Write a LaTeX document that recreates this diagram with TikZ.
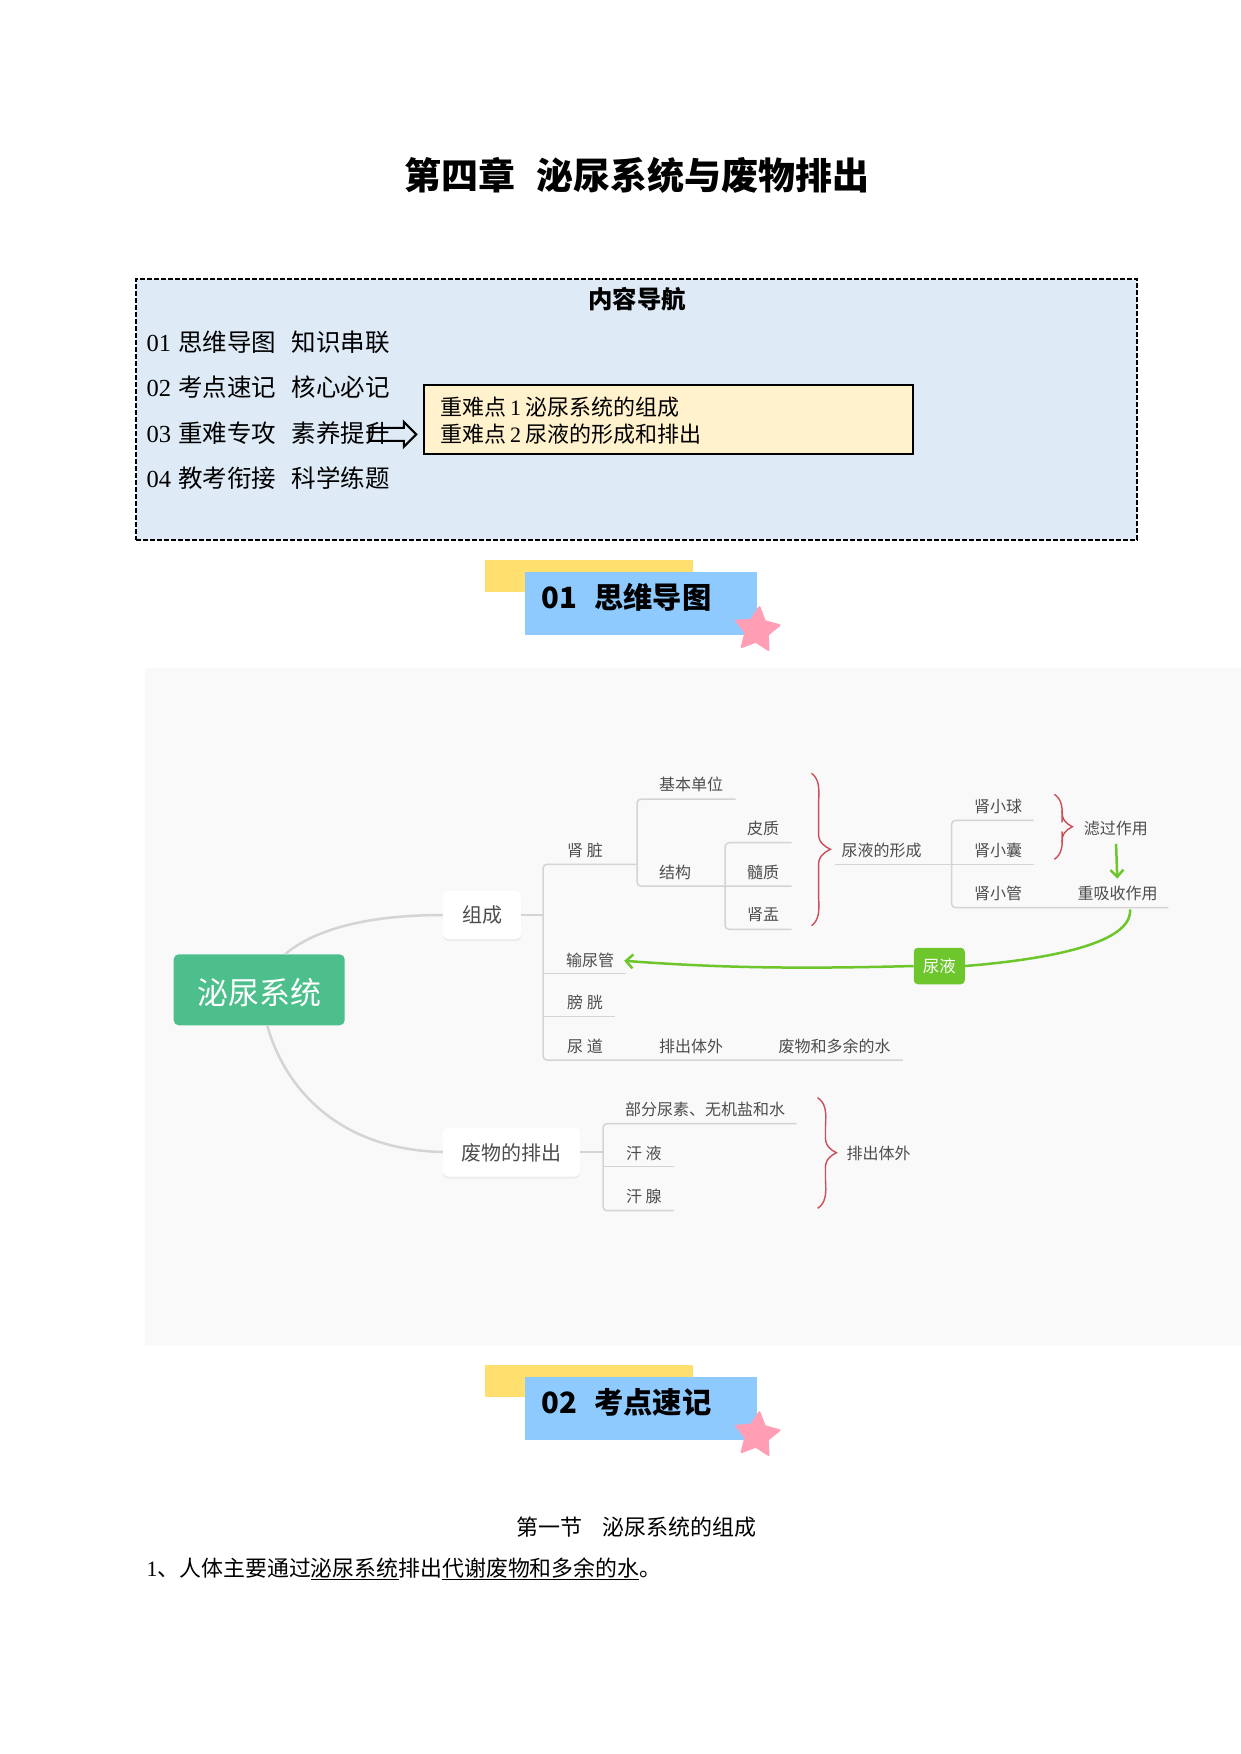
\documentclass[tikz,border=0pt]{standalone}
\usepackage{fontspec}
\setmainfont{Noto Sans CJK SC}
\newfontfamily\latin{Liberation Serif}
\usetikzlibrary{shapes.geometric,shapes.arrows,arrows.meta,shadows}
\definecolor{navblue}{HTML}{DEEAF6}
\definecolor{navyellow}{HTML}{FFF2CC}
\definecolor{banyellow}{HTML}{FFE06E}
\definecolor{banblue}{HTML}{8FCAFF}
\definecolor{starpink}{HTML}{FF9EB5}
\definecolor{mmbg}{HTML}{F9F9F9}
\definecolor{mmtext}{HTML}{4D4D4D}
\definecolor{mmline}{HTML}{D4D4D4}
\definecolor{rootgreen}{HTML}{4DBF8C}
\definecolor{limeg}{HTML}{6CC62C}
\definecolor{bracered}{HTML}{C9505A}
\newcommand{\fs}[1]{\fontsize{#1}{#1}\selectfont}
\newcommand{\redbrace}[6]{% x0 xm xtip ytop ytip ybot
  \draw[bracestyle] (#1,#4) .. controls (#2,#4+5) and (#2+1,#4+14) .. (#2,#4+28)
   -- (#2,#5-18) .. controls (#2-1,#5-7) and (#3-6,#5-3) .. (#3,#5)
   .. controls (#3-6,#5+3) and (#2-1,#5+7) .. (#2,#5+18)
   -- (#2,#6-28) .. controls (#2+1,#6-14) and (#2,#6-5) .. (#1,#6);}
\tikzset{
  nav/.style={inner sep=0,anchor=west,font=\fs{24.5}},
  bantext/.style={inner sep=0,anchor=west,font=\fs{29.3}\bfseries},
  lab/.style={inner sep=0,text=mmtext,font=\fs{16}},
  tree/.style={draw=mmline,line width=1.5pt,rounded corners=4pt},
  thick link/.style={draw=mmline,line width=2.5pt},
  bracestyle/.style={draw=bracered,line width=1.4pt},
  limeline/.style={draw=limeg,line width=2.5pt},
  whitenode/.style={fill=white,rounded corners=5pt,text=mmtext,inner sep=0,
     drop shadow={opacity=.10,shadow xshift=0pt,shadow yshift=-2pt}},
  starshape/.style={star,star points=5,star point ratio=1.95,fill=starpink,draw=starpink,
     line join=round,line width=2pt,inner sep=0,minimum size=46pt,rotate=-6}
}
\begin{document}
\begin{tikzpicture}[x=1pt,y=-1pt]
\useasboundingbox (0,0) rectangle (1241,1754);
\fill[white] (0,0) rectangle (1241,1754);
% title
\node[inner sep=0,font=\fs{37}\bfseries] (title) at (637,175) {第四章\hspace{22pt}泌尿系统与废物排出};
% navigation
\node[draw=black,dash pattern=on 5pt off 2pt,line width=2pt,fill=navblue,minimum width=1001pt,minimum height=261pt,inner sep=0] (navbox) at (636.5,409.5) {};
\node[inner sep=0,font=\fs{24.4}\bfseries] (navtitle) at (637,299.5) {内容导航};
\node[nav] (n1) at (146.5,342) {{\latin 01}\hspace{7pt}思维导图\hspace{15.5pt}知识串联};
\node[nav] (n2) at (146.5,387) {{\latin 02}\hspace{7pt}考点速记\hspace{15.5pt}核心必记};
\node[nav] (n3) at (146.5,433) {{\latin 03}\hspace{7pt}重难专攻\hspace{15.5pt}素养提升};
\node[nav] (n4) at (146.5,478.5) {{\latin 04}\hspace{7pt}教考衔接\hspace{15.5pt}科学练题};
\node[draw=black,fill=navyellow,line width=1.5pt,minimum width=489pt,minimum height=69pt,inner sep=0] (keybox) at (668.3,419.7) {};
\node[inner sep=0,anchor=west,font=\fs{22}] (k1) at (440,407.5) {重难点\hspace{4pt}{\latin 1}\hspace{4pt}泌尿系统的组成};
\node[inner sep=0,anchor=west,font=\fs{22}] (k2) at (440,434.4) {重难点\hspace{4pt}{\latin 2}\hspace{4pt}尿液的形成和排出};
\node[single arrow,draw=black,line width=2pt,inner xsep=0pt,inner ysep=5.5pt,minimum height=47pt,minimum width=25pt,single arrow head extend=6pt,single arrow head indent=0pt] (blockarrow) at (389.5,434.4) {};
% banner 1
\node[fill=banyellow,minimum width=208pt,minimum height=32pt,inner sep=0] (by1) at (589,575.5) {};
\node[fill=banblue,minimum width=232pt,minimum height=63pt,inner sep=0] (bb1) at (640.5,603.5) {};
\node[bantext] (bt1) at (541.5,597.5) {01\hspace{17pt}思维导图};
\node[starshape] (star1) at (757,630) {};
% mind map background
\fill[mmbg] (145,668) rectangle (1241,1346);
% banner 2
\node[fill=banyellow,minimum width=208pt,minimum height=32pt,inner sep=0] (by2) at (589,1380.5) {};
\node[fill=banblue,minimum width=232pt,minimum height=63pt,inner sep=0] (bb2) at (640.5,1408.5) {};
\node[bantext] (bt2) at (541.5,1402.5) {02\hspace{17pt}考点速记};
\node[starshape] (star2) at (757,1435) {};
% section text
\node[inner sep=0,font=\fs{22}] (sec) at (636.5,1526.7) {第一节\hspace{20pt}泌尿系统的组成};
\node[inner sep=0,anchor=west,font=\fs{21.9}] (para) at (146.5,1569) {{\latin 1}、人体主要通过\underline{泌尿系统}排出\underline{代谢废物和多余的水}。};
% mind map nodes
\node[fill=rootgreen,rounded corners=5pt,minimum width=171pt,minimum height=71pt,inner sep=0] (root) at (259.2,989.8) {};
\node[inner sep=0,text=white,font=\fs{31}] (rootlabel) at (259.2,993) {泌尿系统};
\node[whitenode,font=\fs{20},minimum width=78pt,minimum height=48pt] (zucheng) at (482,915) {组成};
\node[whitenode,minimum width=137pt,minimum height=49pt] (feiwu) at (511.5,1152) {};
\node[inner sep=0,text=mmtext,font=\fs{20}] (feiwulabel) at (511.5,1153) {废物的排出};
\node[lab] (shenzang) at (585,850.7) {肾 脏};
\node[lab] (jiben) at (691,784.3) {基本单位};
\node[lab] (jiegou) at (675,872.7) {结构};
\node[lab] (pizhi) at (763,828.7) {皮质};
\node[lab] (suizhi) at (763,872.7) {髓质};
\node[lab] (shenyu) at (763,915) {肾盂};
\node[lab] (xingcheng) at (881.5,850) {尿液的形成};
\node[lab] (xq) at (998,806) {肾小球};
\node[lab] (xn) at (998,850.7) {肾小囊};
\node[lab] (xg) at (998,893.3) {肾小管};
\node[lab] (lvguo) at (1115.8,828.3) {滤过作用};
\node[lab] (chongxi) at (1117.5,893.3) {重吸收作用};
\node[lab] (shuniao) at (590,960) {输尿管};
\node[lab] (pangguang) at (585,1002.3) {膀 胱};
\node[lab] (niaodao) at (585,1046.7) {尿 道};
\node[lab] (paichu) at (691,1046.7) {排出体外};
\node[lab] (duoyu) at (834.6,1046.7) {废物和多余的水};
\node[lab] (bufen) at (705,1109.3) {部分尿素、无机盐和水};
\node[lab] (hanye) at (643.8,1153.3) {汗 液};
\node[lab] (hanxian) at (643.8,1196.7) {汗 腺};
\node[lab] (paichu2) at (878.5,1153.3) {排出体外};
\node[fill=limeg,rounded corners=4pt,text=white,font=\fs{16.5},minimum width=51pt,minimum height=36.5pt,inner sep=0] (niaoye) at (939.3,966) {尿液};
% tree coordinates
\coordinate (sA) at (543,915);
\coordinate (aT) at (543,864.3); \coordinate (aTe) at (637,864.3);
\coordinate (aB) at (543,1060); \coordinate (aBe) at (902.8,1060);
\coordinate (a2) at (543,973.3); \coordinate (a2e) at (626,973.3);
\coordinate (a3) at (543,1016.7); \coordinate (a3e) at (615,1016.7);
\coordinate (bT) at (637,799); \coordinate (bTe) at (735.7,799);
\coordinate (bB) at (637,886); \coordinate (bBe) at (791.7,886);
\coordinate (cT) at (725,842.7); \coordinate (cTe) at (791.7,842.7);
\coordinate (cM) at (725,886);
\coordinate (cB) at (725,929.3); \coordinate (cBe) at (791.7,929.3);
\coordinate (dS) at (834.6,864.3); \coordinate (dM) at (951.6,864.3); \coordinate (dMe) at (1033.7,864.3);
\coordinate (dT) at (951.6,820.3); \coordinate (dTe) at (1033.7,820.3);
\coordinate (dB) at (951.6,907.7); \coordinate (dBe) at (1168.4,907.7);
\coordinate (sE) at (603,1152);
\coordinate (eT) at (603,1123.7); \coordinate (eTe) at (796.6,1123.7);
\coordinate (eM) at (603,1166.7); \coordinate (eMe) at (674,1166.7);
\coordinate (eB) at (603,1210.7); \coordinate (eBe) at (674,1210.7);
% tree lines
\draw[thick link] (zucheng.east) -- (sA);
\draw[tree] (aTe) -- (aT) -- (aB) -- (aBe);
\draw[tree,rounded corners=0pt] (a2) -- (a2e);
\draw[tree,rounded corners=0pt] (a3) -- (a3e);
\draw[tree] (bTe) -- (bT) -- (bB) -- (bBe);
\draw[tree] (cTe) -- (cT) -- (cB) -- (cBe);
\draw[tree,rounded corners=0pt] (dS) -- (dMe);
\draw[tree] (dTe) -- (dT) -- (dB) -- (dBe);
\draw[thick link] (feiwu.east) -- (sE);
\draw[tree] (eTe) -- (eT) -- (eB) -- (eBe);
\draw[tree,rounded corners=0pt] (eM) -- (eMe);
% root curves
\draw[thick link] ([xshift=26pt]root.north) .. controls (320,925) and (380,915) .. (zucheng.west);
\draw[thick link] ([xshift=8pt]root.south) .. controls (287,1095) and (345,1150) .. (feiwu.west);
% braces
\redbrace{811.5}{818.6}{830.4}{773.3}{849.3}{925.7}
\redbrace{1054.3}{1062}{1072.4}{794.3}{826.7}{859.3}
\redbrace{817.6}{825.5}{836.4}{1097.7}{1152.7}{1208.3}
% green connectors
\draw[limeline,-{Straight Barb[length=7pt,width=13pt]},shorten <=8pt,shorten >=7pt] (lvguo.south) -- (chongxi.north);
\coordinate (gStart) at (1130,909.3);
\draw[limeline] (gStart) .. controls (1133,945) and (1040,960) .. (niaoye.east);
\draw[limeline,-{Straight Barb[length=7pt,width=14pt]},shorten >=10pt] (niaoye.west) .. controls (800,969) and (720,968) .. (shuniao.east);
\end{tikzpicture}
\end{document}
